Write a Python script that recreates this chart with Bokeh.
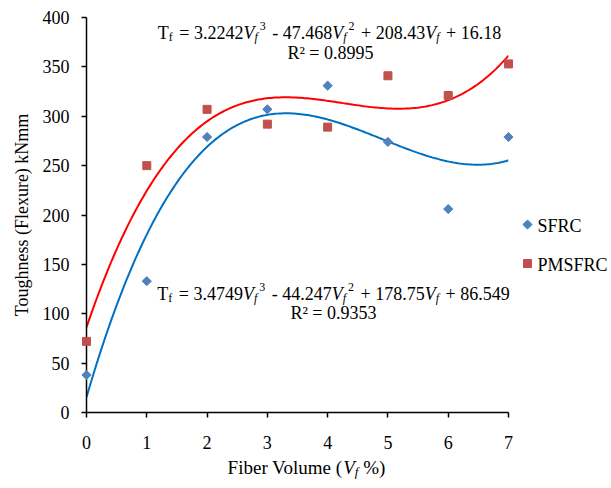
import numpy as np
from bokeh.plotting import figure
from bokeh.models import ColumnDataSource, FixedTicker, Range1d
from bokeh.embed import file_html
from bokeh.resources import INLINE
from bokeh.core.properties import value

# ---------------- data ----------------
fiber_volume = [0, 1, 2, 3, 4, 5, 6, 7]
sfrc = [38, 133, 279, 307, 331, 274, 206, 279]
pmsfrc = [72, 250, 307, 292, 289, 341, 321, 353]
series_names = ["SFRC", "PMSFRC"]
x_ticks = [0, 1, 2, 3, 4, 5, 6, 7]
y_ticks = [0, 50, 100, 150, 200, 250, 300, 350, 400]

# trendline equation texts as printed on the chart
eq_top_coeffs = ["3.2242", "47.468", "208.43", "16.18"]
eq_top_r2 = "0.8995"
eq_bot_coeffs = ["3.4749", "44.247", "178.75", "86.549"]
eq_bot_r2 = "0.9353"

FONT = "Liberation Serif"
BLUE_PT = "#4F81BD"
RED_PT = "#C0504D"
BLUE_LN = "#0070C0"
RED_LN = "#FF0000"

W, H = 611, 488
BL, BR, BT, BB = 86, 103, 17, 76
FW, FH = W - BL - BR, H - BT - BB
X0, X1, Y0, Y1 = 0, 7, 0, 400

p = figure(width=W, height=H, output_backend="svg", toolbar_location=None,
           x_range=Range1d(X0, X1), y_range=Range1d(Y0, Y1),
           min_border_left=BL, min_border_right=BR, min_border_top=BT,
           min_border_bottom=BB)
p.outline_line_color = None
p.xgrid.visible = False
p.ygrid.visible = False


def px2x(px):  # page pixel -> data x (for annotation placement)
    return X0 + (px - BL) * (X1 - X0) / FW


def px2y(py):
    return Y0 + (BT + FH - py) * (Y1 - Y0) / FH


# trendlines: cubic least-squares fits of the data (as the spreadsheet does)
xs = np.linspace(0, 7, 200)
fit_s = np.polyval(np.polyfit(fiber_volume, sfrc, 3), xs)
fit_p = np.polyval(np.polyfit(fiber_volume, pmsfrc, 3), xs)
p.line(xs, fit_s, line_color=BLUE_LN, line_width=2)
p.line(xs, fit_p, line_color=RED_LN, line_width=2)

s1 = p.scatter(fiber_volume, sfrc, marker="square", size=6.5, angle=np.pi / 4,
               fill_color=BLUE_PT, line_color=BLUE_PT)
s2 = p.scatter(fiber_volume, pmsfrc, marker="square", size=8,
               fill_color=RED_PT, line_color=RED_PT)
s1.level = "overlay"
s2.level = "overlay"

# axes
for ax in (p.xaxis[0], p.yaxis[0]):
    ax.axis_line_color = "black"
    ax.axis_line_width = 1.5
    ax.major_tick_line_color = "black"
    ax.major_tick_line_width = 1.5
    ax.major_tick_out = 5
    ax.major_tick_in = 0
    ax.minor_tick_line_color = None
    ax.major_label_text_font = FONT
    ax.major_label_text_font_size = "18px"
    ax.major_label_text_color = "black"
p.xaxis.ticker = FixedTicker(ticks=x_ticks)
p.yaxis.ticker = FixedTicker(ticks=y_ticks)
p.xaxis.major_label_standoff = 18
p.yaxis.major_label_standoff = 12
p.yaxis.axis_label = "Toughness (Flexure) kNmm"
p.yaxis.axis_label_text_font = FONT
p.yaxis.axis_label_text_font_size = "18px"
p.yaxis.axis_label_text_font_style = "normal"
p.yaxis.axis_label_text_color = "black"
p.yaxis.axis_label_standoff = 8

# ---------------- rich text helper ----------------
REG = {' ': .25, '.': .25, '=': .564, '+': .564, '-': .333, 'T': .611, 'f': .333,
       'R': .667, '\u00b2': .3, '%': .833, '(': .333, ')': .333, 'F': .556, 'i': .278,
       'b': .5, 'e': .444, 'r': .333, 'V': .722, 'o': .5, 'l': .278, 'u': .5,
       'm': .778, 'S': .556, 'C': .667, 'P': .556, 'M': .889}
ITA = {'V': .611, 'f': .278}
for d in "0123456789":
    REG[d] = .5

DY = -5  # baseline correction

def tw(s, italic, size):
    tbl = ITA if italic else REG
    return sum(tbl.get(c, REG.get(c, .5)) for c in s) * size


data = {k: [] for k in ("x", "y", "text", "xo", "yo", "style", "size")}


def build(pieces, x, y, base_dy, align="center"):
    # pieces: (text, italic, size, dy, extra_gap_before)
    total = sum(tw(t, it, sz) + g for t, it, sz, dy, g in pieces)
    cur = -total / 2 if align == "center" else 0
    for t, it, sz, dy, g in pieces:
        cur += g
        stripped = t.lstrip(" ")
        lead = tw(t[:len(t) - len(stripped)], it, sz)
        data["x"].append(x)
        data["y"].append(y)
        data["text"].append(stripped.rstrip(" "))
        data["xo"].append(cur + lead)
        data["yo"].append(base_dy + dy + DY)
        data["style"].append("italic" if it else "normal")
        data["size"].append(f"{sz}px")
        cur += tw(t, it, sz)


M, S = 18, 12
SUB, SUP = 4, -7
G = 2


def eq_pieces(c):
    return [("T", False, M, 0, 0), ("f", False, S, SUB, 0),
            (" = " + c[0], False, M, 0, G),
            ("V", True, M, 0, 0), ("f", True, S, SUB, 0), ("3", False, S, SUP, 2),
            (" - " + c[1], False, M, 0, G),
            ("V", True, M, 0, 0), ("f", True, S, SUB, 0), ("2", False, S, SUP, 2),
            (" + " + c[2], False, M, 0, G),
            ("V", True, M, 0, 0), ("f", True, S, SUB, 0),
            (" + " + c[3], False, M, 0, G)]


build(eq_pieces(eq_top_coeffs), px2x(329), px2y(37), 0)
build([("R\u00b2 = " + eq_top_r2, False, M, 0, 0)], px2x(330), px2y(57), 0)
build(eq_pieces(eq_bot_coeffs), px2x(333), px2y(298), 0)
build([("R\u00b2 = " + eq_bot_r2, False, M, 0, 0)], px2x(333), px2y(317), 0)
T = 19
build([("Fiber Volume (", False, T, 0, 0), ("V", True, T, 0, -1.5),
       ("f", True, 13, SUB, 0), (" %)", False, T, 0, 0)],
      px2x(306), px2y(472), 0)

# legend (outside the plot frame, on the right)
leg_x = px2x(527)
leg_y = [px2y(224), px2y(263)]
for name, yy in zip(series_names, leg_y):
    build([(name, False, M, 0, 0)], leg_x, yy, 6, align="left")
    data["xo"][-1] = 10

src = ColumnDataSource(data)
tr = p.text(x="x", y="y", text="text", x_offset="xo", y_offset="yo", source=src,
            text_font=value(FONT), text_font_size="size", text_font_style="style",
            text_color="black", text_align="left", text_baseline="alphabetic")
tr.level = "overlay"

# legend symbols; the last, transparent entry only widens the marker culling margin
leg_src = ColumnDataSource(dict(
    x=[leg_x, leg_x, leg_x], y=[leg_y[0], leg_y[1], leg_y[1]],
    marker=["square", "square", "square"], angle=[np.pi / 4, 0, 0],
    size=[6.5, 8, 80], color=[BLUE_PT, RED_PT, RED_PT], alpha=[1, 1, 0]))
lg = p.scatter(x="x", y="y", marker="marker", angle="angle", size="size",
               fill_color="color", line_color="color", fill_alpha="alpha",
               line_alpha="alpha", source=leg_src)
lg.level = "overlay"

open("out.html", "w").write(file_html(p, INLINE))
